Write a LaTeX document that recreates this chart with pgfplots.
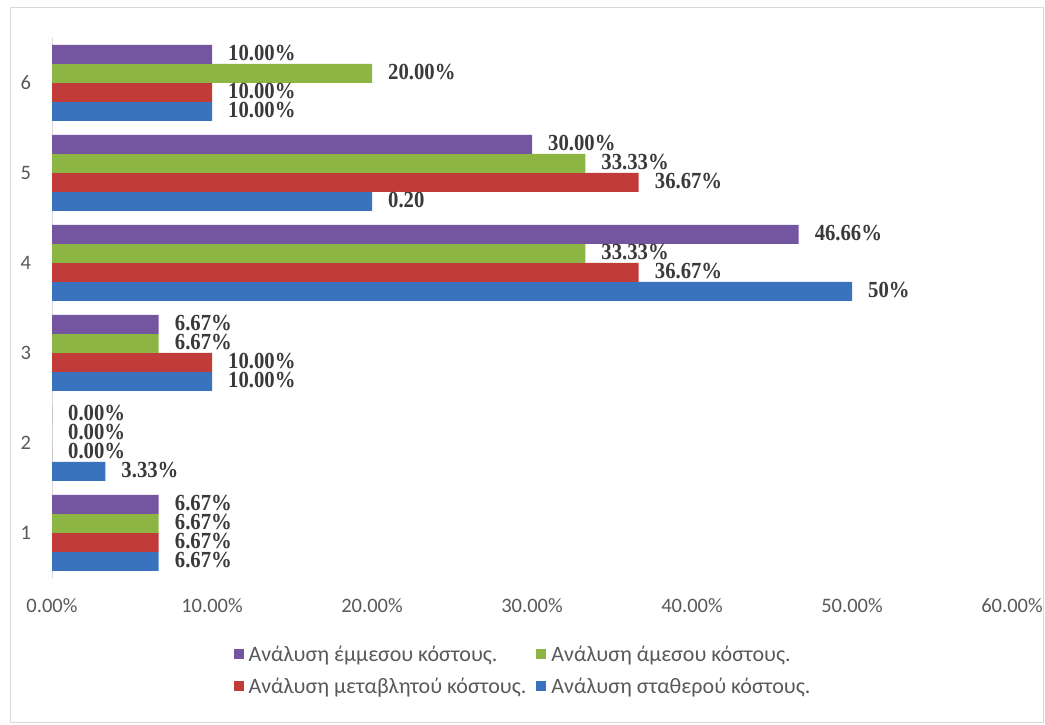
\documentclass[border=0pt]{standalone}
\usepackage{fontspec}
\setmainfont{Carlito}
\newfontfamily\lblfont[FakeStretch=0.9]{Liberation Serif}
\usepackage{pgfplots}
\pgfplotsset{compat=1.18}

\definecolor{blbar}{HTML}{3973BD}
\definecolor{rdbar}{HTML}{C13B39}
\definecolor{grbar}{HTML}{8CB543}
\definecolor{pubar}{HTML}{7455A0}
\definecolor{ticktext}{HTML}{595959}
\definecolor{lbltext}{HTML}{3A3A3A}
\definecolor{framegray}{HTML}{D9D9D9}

\begin{document}
\begin{tikzpicture}[x=1pt,y=1pt]
\fill[white] (0,0) rectangle (1045,725);
\useasboundingbox (0,0) rectangle (1045,725);
\draw[framegray] (10.5,2.5) rectangle (1043.5,717.5);
\begin{axis}[
    at={(52pt,147pt)}, anchor=south west,
    scale only axis,
    width=960pt, height=540pt,
    xbar, bar width=19pt,
    xmin=0, xmax=60,
    ymin=0.5, ymax=6.5,
    xtick={0,10,...,60},
    xticklabels={0.00\%,10.00\%,20.00\%,30.00\%,40.00\%,50.00\%,60.00\%},
    ytick={1,...,6},
    yticklabels={1,2,3,4,5,6},
    tick style={draw=none},
    axis lines*=left,
    x axis line style={draw=none},
    y axis line style={draw=framegray},
    ticklabel style={font=\fontsize{20.5}{22}\selectfont, text=ticktext},
    xticklabel style={anchor=center, yshift=-28pt},
    yticklabel style={anchor=center, xshift=-22pt},
    every node near coord/.append style={anchor=west, inner sep=0pt, xshift=16pt, yshift=1pt,
        font=\lblfont\bfseries\fontsize{23}{23}\selectfont, text=lbltext},
    point meta=explicit symbolic,
    nodes near coords,
    legend columns=2,
    reverse legend,
    legend cell align=left,
    legend image code/.code={\fill (0pt,-5pt) rectangle (10pt,5pt);},
    legend style={at={(0.4906,-0.171)}, anchor=center, draw=none, fill=none,
        font=\fontsize{22}{24}\selectfont, text=ticktext, row sep=11pt,
        /tikz/every odd column/.append style={column sep=3pt},
        /tikz/every even column/.append style={column sep=8pt}},
    clip=false,
]
\addplot[draw=none, fill=blbar, bar shift=-28.5pt]
table[x=v, y=c, meta=l] {
c v l
1 6.67 6.67\%
2 3.33 3.33\%
3 10 10.00\%
4 50 50\%
5 20 0.20
6 10 10.00\%
};
\addlegendentry{Ανάλυση σταθερού κόστους.}
\addplot[draw=none, fill=rdbar, bar shift=-9.5pt]
table[x=v, y=c, meta=l] {
c v l
1 6.67 6.67\%
2 0 0.00\%
3 10 10.00\%
4 36.67 36.67\%
5 36.67 36.67\%
6 10 10.00\%
};
\addlegendentry{Ανάλυση μεταβλητού κόστους.}
\addplot[draw=none, fill=grbar, bar shift=9.5pt]
table[x=v, y=c, meta=l] {
c v l
1 6.67 6.67\%
2 0 0.00\%
3 6.67 6.67\%
4 33.33 33.33\%
5 33.33 33.33\%
6 20 20.00\%
};
\addlegendentry{Ανάλυση άμεσου κόστους.}
\addplot[draw=none, fill=pubar, bar shift=28.5pt]
table[x=v, y=c, meta=l] {
c v l
1 6.67 6.67\%
2 0 0.00\%
3 6.67 6.67\%
4 46.66 46.66\%
5 30 30.00\%
6 10 10.00\%
};
\addlegendentry{Ανάλυση έμμεσου κόστους.}
\end{axis}
\end{tikzpicture}
\end{document}
